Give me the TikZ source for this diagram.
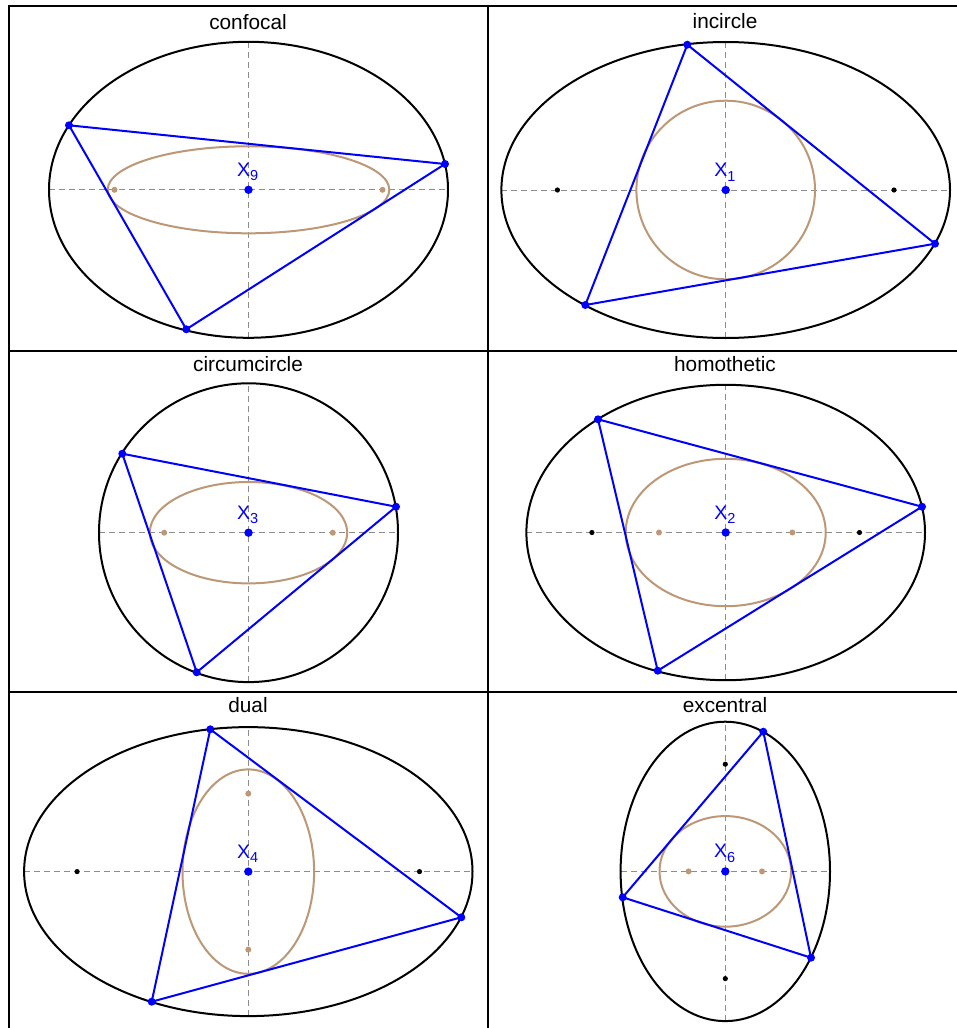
\documentclass[tikz,border=0pt]{standalone}
\usepackage{fontspec}
\setmainfont{Liberation Sans}
\definecolor{caus}{RGB}{188,152,118}
\definecolor{axg}{RGB}{140,140,140}
\begin{document}
\begin{tikzpicture}[x=1pt,y=-1pt,
  frame/.style={line width=2.6pt, draw=black},
  outer/.style={line width=2pt, draw=black},
  caustic/.style={line width=2pt, draw=caus},
  tri/.style={line width=2pt, draw=blue, line join=round},
  axis/.style={line width=1pt, draw=axg, dash pattern=on 6pt off 4pt},
  ttl/.style={font=\fontsize{20.8}{24}\selectfont, anchor=base, inner sep=0pt},
  lbl/.style={text=blue, anchor=base west, inner sep=0pt, font=\fontsize{19.5}{20}\selectfont},
  vdot/.style={fill=blue},
  bfoc/.style={fill=black},
  cfoc/.style={fill=caus}
]
\useasboundingbox (0,0) rectangle (957,1028);
\fill[white] (0,0) rectangle (957,1028);

% centres
\coordinate (c1) at (248.5,189.8);
\coordinate (c2) at (725.7,190);
\coordinate (c3) at (248.5,532.7);
\coordinate (c4) at (725.7,532.5);
\coordinate (c5) at (248.3,871.6);
\coordinate (c6) at (725.3,871.4);

% ---------- axes ----------
\draw[axis] ([xshift=-199.5pt]c1) -- ([xshift=199.5pt]c1);
\draw[axis] ([yshift=-148pt]c1) -- ([yshift=148pt]c1);
\draw[axis] ([xshift=-224.3pt]c2) -- ([xshift=224.3pt]c2);
\draw[axis] ([yshift=-148pt]c2) -- ([yshift=148pt]c2);
\draw[axis] ([xshift=-149.5pt]c3) -- ([xshift=149.5pt]c3);
\draw[axis] ([yshift=-149.4pt]c3) -- ([yshift=149.4pt]c3);
\draw[axis] ([xshift=-199.3pt]c4) -- ([xshift=199.3pt]c4);
\draw[axis] ([yshift=-147.7pt]c4) -- ([yshift=147.7pt]c4);
\draw[axis] ([xshift=-224.2pt]c5) -- ([xshift=224.2pt]c5);
\draw[axis] ([yshift=-144.5pt]c5) -- ([yshift=144.5pt]c5);
\draw[axis] ([xshift=-104.7pt]c6) -- ([xshift=104.7pt]c6);
\draw[axis] ([yshift=-149.7pt]c6) -- ([yshift=149.7pt]c6);

% ---------- outer conics ----------
\draw[outer] (c1) ellipse [x radius=199.5pt, y radius=148pt];
\draw[outer] (c2) ellipse [x radius=224.3pt, y radius=148pt];
\draw[outer] (c3) ellipse [x radius=149.5pt, y radius=149.4pt];
\draw[outer] (c4) ellipse [x radius=199.3pt, y radius=147.7pt];
\draw[outer] (c5) ellipse [x radius=224.2pt, y radius=144.5pt];
\draw[outer] (c6) ellipse [x radius=104.7pt, y radius=149.7pt];

% ---------- caustics ----------
\draw[caustic] (c1) ellipse [x radius=140.8pt, y radius=43.5pt];
\draw[caustic] (c2) circle [radius=89.3pt];
\draw[caustic] (c3) ellipse [x radius=98.7pt, y radius=50.7pt];
\draw[caustic] (c4) ellipse [x radius=100pt, y radius=73.7pt];
\draw[caustic] (c5) ellipse [x radius=65.8pt, y radius=102.2pt];
\draw[caustic] (c6) ellipse [x radius=65.8pt, y radius=55.3pt];

% ---------- foci ----------
\fill[cfoc] ([xshift=-134pt]c1) circle [radius=3pt];
\fill[cfoc] ([xshift=134pt]c1) circle [radius=3pt];
\fill[bfoc] ([xshift=-168.3pt]c2) circle [radius=2.6pt];
\fill[bfoc] ([xshift=168.3pt]c2) circle [radius=2.6pt];
\fill[cfoc] ([xshift=-84.3pt]c3) circle [radius=3pt];
\fill[cfoc] ([xshift=84.3pt]c3) circle [radius=3pt];
\fill[bfoc] ([xshift=-133.8pt]c4) circle [radius=2.6pt];
\fill[bfoc] ([xshift=133.8pt]c4) circle [radius=2.6pt];
\fill[cfoc] ([xshift=-66.7pt]c4) circle [radius=3pt];
\fill[cfoc] ([xshift=66.7pt]c4) circle [radius=3pt];
\fill[bfoc] ([xshift=-171.2pt]c5) circle [radius=2.6pt];
\fill[bfoc] ([xshift=171.2pt]c5) circle [radius=2.6pt];
\fill[cfoc] ([yshift=78pt]c5) circle [radius=3pt];
\fill[cfoc] ([yshift=-78pt]c5) circle [radius=3pt];
\fill[bfoc] ([yshift=107.2pt]c6) circle [radius=2.6pt];
\fill[bfoc] ([yshift=-107.2pt]c6) circle [radius=2.6pt];
\fill[cfoc] ([xshift=-36.7pt]c6) circle [radius=3pt];
\fill[cfoc] ([xshift=36.7pt]c6) circle [radius=3pt];

% ---------- triangles ----------
\coordinate (a1) at (69,125.3);   \coordinate (b1) at (445,164);   \coordinate (d1) at (186.3,329.3);
\coordinate (a2) at (687.3,44.7); \coordinate (b2) at (935,243.7); \coordinate (d2) at (585.3,305);
\coordinate (a3) at (122.3,453.7);\coordinate (b3) at (396,506.7); \coordinate (d3) at (196.7,672.3);
\coordinate (a4) at (598,419.3);  \coordinate (b4) at (922,506.7); \coordinate (d4) at (657.7,670.7);
\coordinate (a5) at (210.3,729.3);\coordinate (b5) at (461.3,917.3);\coordinate (d5) at (151.7,1001.7);
\coordinate (a6) at (763.3,731.7);\coordinate (b6) at (811,957.7); \coordinate (d6) at (622.7,897.3);
\foreach \i in {1,...,6}{
  \draw[tri] (a\i) -- (b\i) -- (d\i) -- cycle;
  \fill[vdot] (a\i) circle [radius=4pt];
  \fill[vdot] (b\i) circle [radius=4pt];
  \fill[vdot] (d\i) circle [radius=4pt];
  \fill[vdot] (c\i) circle [radius=4.2pt];
}

% ---------- labels ----------
\node[lbl] (l1) at ([xshift=-11.5pt, yshift=13.5pt]c1) {X\raisebox{-4.5pt}{\fontsize{14.5}{14}\selectfont 9}};
\node[lbl] (l2) at ([xshift=-11.5pt, yshift=13.5pt]c2) {X\raisebox{-4.5pt}{\fontsize{14.5}{14}\selectfont 1}};
\node[lbl] (l3) at ([xshift=-11.5pt, yshift=13.5pt]c3) {X\raisebox{-4.5pt}{\fontsize{14.5}{14}\selectfont 3}};
\node[lbl] (l4) at ([xshift=-11.5pt, yshift=13.5pt]c4) {X\raisebox{-4.5pt}{\fontsize{14.5}{14}\selectfont 2}};
\node[lbl] (l5) at ([xshift=-11.5pt, yshift=13.5pt]c5) {X\raisebox{-4.5pt}{\fontsize{14.5}{14}\selectfont 4}};
\node[lbl] (l6) at ([xshift=-11.5pt, yshift=13.5pt]c6) {X\raisebox{-4.5pt}{\fontsize{14.5}{14}\selectfont 6}};

% ---------- titles ----------
\node[ttl] (t1) at (248,29) {confocal};
\node[ttl] (t2) at (725,28.5) {incircle};
\node[ttl] (t3) at (248,371.7) {circumcircle};
\node[ttl] (t4) at (725,371.7) {homothetic};
\node[ttl] (t5) at (248,712.7) {dual};
\node[ttl] (t6) at (725,712.7) {excentral};

% ---------- frame ----------
\draw[frame] (9,1028) -- (9,6) -- (957,6);
\draw[frame] (488,6) -- (488,1028);
\draw[frame] (9,351) -- (957,351);
\draw[frame] (9,692) -- (957,692);
\end{tikzpicture}
\end{document}
